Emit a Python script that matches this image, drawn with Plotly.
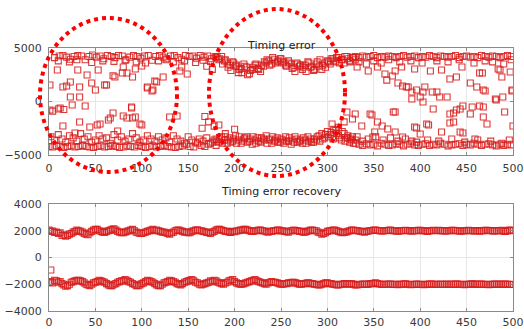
import plotly.graph_objects as go

# ---------------- Top chart: "Timing error" ----------------
# dense upper row, x 0-180
ua_x = [6, 11, 15, 19, 23, 27, 31, 35, 39, 43, 47, 51, 55, 59, 63, 67, 71, 75, 79, 83, 87, 91,
        95, 99, 103, 107, 111, 115, 119, 123, 127, 131, 135, 139, 143, 147, 151, 155, 159, 163,
        167, 171, 175, 179]
ua_y = [4100, 4250, 4300, 4150, 3950, 4200, 4300, 4250, 3900, 4200, 4350, 4150, 4250, 4000, 4300,
        4200, 4100, 4300, 4250, 3900, 4150, 4300, 4200, 4050, 4250, 4300, 3850, 4200, 4300, 4150,
        4000, 4250, 4300, 4100, 3950, 4300, 4200, 4250, 4050, 4300, 4150, 4250, 4000, 4200]
ua2_x = [10, 22, 30, 46, 58, 70, 82, 94, 104, 118, 126, 134, 146, 158, 166, 174]
ua2_y = [3800, 3700, 3900, 3650, 3800, 3750, 3850, 3700, 3600, 3800, 3900, 3700, 3800, 3650, 3850, 3750]

# dense lower rows, x 0-180
la_x = list(range(0, 181, 4))
la_y = [-4200, -4250, -4150, -4200, -4300, -4200, -4150, -4250, -4200, -4100,
        -4200, -4250, -4300, -4200, -4150, -4250, -4200, -4100, -4200, -4300,
        -4250, -4150, -4200, -4250, -4100, -4200, -4300, -4200, -4150, -4250,
        -4200, -4100, -4200, -4250, -4300, -4200, -4150, -4000, -4200, -4250,
        -3900, -4100, -4200, -4000, -3800, -4100]
la2_x = list(range(2, 179, 4))
la2_y = [-3300, -3600, -3100, -3500, -3800, -3200, -3400, -3700, -3000, -3500,
         -3300, -3800, -3600, -3200, -3500, -3400, -3900, -3100, -3600, -3300,
         -3700, -3500, -3000, -3400, -3800, -3600, -3200, -3500, -3700, -3300,
         -3600, -3400, -3800, -3200, -3500, -3700, -3900, -3300, -3600, -3800,
         -3500, -3700, -3400, -3900, -3600]

# middle region x 180-330, upper band
ub_x = list(range(180, 331, 3))
ub_y = [4100, 3900, 4200, 3800, 3600, 3400, 3700, 3300, 2700, 3100,
        3500, 3200, 2600, 3000, 3400, 3100, 2800, 3300, 3600, 3800,
        3500, 3900, 3700, 4000, 3600, 3400, 3800, 3500, 3200, 3600,
        3300, 3000, 3400, 3700, 3200, 2900, 3500, 3300, 3000, 3600,
        3800, 3500, 4000, 3700, 4100, 3900, 3600, 4200, 3800, 4100, 3900]
ub2_x = list(range(181, 330, 3))
ub2_y = [4200, 4000, 3500, 3900, 3200, 2900, 3600, 3400, 3000, 2700,
         3300, 2500, 2900, 3200, 3500, 3000, 3400, 3700, 3900, 3400,
         4100, 3600, 3800, 4000, 3700, 3300, 3600, 3100, 2800, 3500,
         3400, 3200, 2800, 3600, 3300, 3000, 3700, 3900, 3400, 3200,
         3700, 4000, 3800, 4100, 3600, 3900, 4200, 4000, 3700, 4100]
# middle region x 180-330, lower band
lb_x = list(range(180, 331, 3))
lb_y = [-3500, -3800, -3300, -3600, -3900, -3400, -3700, -3200, -3600, -3900,
        -3500, -3300, -3700, -4000, -3600, -3400, -3800, -3500, -3200, -3600,
        -3900, -3700, -3400, -3800, -3600, -3300, -3700, -4000, -3800, -3500,
        -3700, -3900, -3600, -3300, -3500, -3800, -3600, -3200, -3000, -3400,
        -2800, -3100, -3500, -2700, -3200, -3600, -3000, -3400, -3800, -3300, -3600]
lb2_x = list(range(181, 330, 3))
lb2_y = [-3700, -3400, -3900, -3300, -3600, -3800, -3500, -3900, -3300, -3700,
         -3400, -3800, -3500, -3300, -3900, -3700, -3400, -3600, -3900, -3500,
         -3300, -3600, -3800, -3500, -3900, -3700, -3400, -3600, -3300, -3800,
         -3600, -3400, -3900, -3700, -3800, -3500, -3300, -3700, -3500, -3100,
         -3300, -2900, -2600, -3000, -3400, -2800, -3700, -3200, -3500, -3900]

# right region x 330-500
uc_x = list(range(330, 500, 4))
uc_y = [4200, 4100, 4250, 4150, 4200, 4300, 4100, 4200, 4150, 4250,
        4200, 4100, 4200, 4300, 4150, 4200, 4250, 4100, 4200, 4150,
        4300, 4200, 4100, 4250, 4200, 4150, 4200, 4300, 4100, 4200,
        4250, 4150, 4200, 4100, 4300, 4200, 4150, 4250, 4200, 4100,
        4200, 4300, 4200]
uc2_x = [334, 342, 350, 358, 366, 378, 390, 402, 418, 430, 442, 458, 470, 478, 490, 498]
uc2_y = [3700, 3500, 3800, 3600, 3900, 3700, 3800, 3600, 3800, 3700, 3900, 3600, 3800, 3700, 3500, 3900]
lc_x = list(range(330, 500, 4))
lc_y = [-3900, -4000, -4100, -3950, -4050, -4000, -4150, -3900, -4000, -4100,
        -4050, -3950, -4000, -4150, -4000, -3900, -4050, -4100, -4000, -3950,
        -4100, -4000, -4050, -3900, -4000, -4150, -4050, -4000, -3950, -4100,
        -4000, -4050, -3900, -4000, -4100, -4000, -3950, -4050, -4150, -4000,
        -4100, -4000, -4050]
lc2_x = [322, 326, 332, 338, 344, 352, 360, 368, 376, 384, 396, 408, 420, 434, 448, 462, 476, 488, 496]
lc2_y = [-3400, -3600, -3300, -3700, -3500, -3300, -3600, -3400, -3700, -3500,
         -3800, -3600, -3700, -3500, -3800, -3600, -3700, -3900, -3600]

# scattered points between the bands
sc_x = [1, 1, 9, 31, 53, 41, 23, 15, 33, 50, 62, 71, 84, 90, 106, 112, 116, 123, 33, 25,
        39, 12, 89, 69, 84, 90, 64, 52, 33, 44, 100, 69, 79, 19, 46, 60, 23, 10, 66, 15,
        55, 74, 28, 80, 93, 100, 143, 149, 141, 114, 106, 111, 89, 80, 93, 98, 130, 138, 4, 16,
        168, 172, 178, 165, 183, 200, 190, 170, 176, 305, 312, 318,
        332, 344, 354, 362, 370, 373, 364, 376, 381, 387, 391, 396, 400, 391, 394, 380,
        321, 330, 327, 337, 346, 354, 359, 371, 365, 373, 351, 349, 381, 394, 400, 391,
        411, 423, 432, 439, 445, 454, 467, 461, 470, 484, 488, 499, 481, 464, 446, 432,
        454, 491, 407, 436, 472, 423, 443, 459, 500, 405, 413, 421, 403, 443, 414,
        385, 403, 418, 429, 439, 468, 482, 489, 499, 348, 373, 396, 409, 436, 432, 446,
        464, 468, 486, 497, 456, 468]
sc_y = [1540, -800, 2950, 2950, 2950, 2480, 1820, 1360, 1360, 1070, 1540, 2290, 2660, 2290,
        1260, 1070, 1820, 2290, 420, -330, -420, -610, -610, -1070, -1540, -1540, -1730, -2200,
        -1920, -2380, -2200, 2400, 2660, 1450, 1730, 1540, 420, -700, -1540, -2290, -2100, -2760,
        -2950, 3230, 3040, 3320, 3230, 2570, 2850, 1900, 1360, 980, -510, -1360, -1450, -2100,
        -1450, -1360, -900, -750,
        -1400, -1900, -2300, -2500, -2200, -2600, -3000, 3300, 3000, -2100, -2400, -1900,
        3220, 2850, 3220, 2570, 2380, 2850, 2000, 1730, 1450, 1360, 890, 1070, 420, 230, 3040, 3220,
        -980, -1170, -1640, -2290, -1170, -1920, -2290, -980, -2570, -2850, -2850, -3320, -3320,
        -2380, -3040, -3700,
        2850, 2950, 2100, 2290, 3220, 1730, 2660, 1360, 980, 3040, 2290, 980, 230, -420, -420,
        -1170, -1170, -980, -2100, -1920, -2100, -2850, -2850, -3510, -2290, 1360, 890, 420,
        -50, -700, -700,
        1360, 890, 890, 420, -800, -510, 140, 420, 1070, -1260, -980, -2480, -2200, -1070,
        -2010, -2950, 2660, 1070, 2950, 2760, -510, -1450]

# ---------------- Bottom chart: "Timing error recovery" ----------------
rec_x = list(range(0, 501, 4))
rec_up = [2050, 1980, 1900, 1850, 1700, 1650, 1800, 1950, 2000, 1900,
          1750, 1850, 2050, 2100, 1950, 1880, 2000, 2100, 2050, 1900,
          1850, 1950, 2050, 2000, 1850, 1800, 1900, 2000, 2100, 2050,
          1950, 1900, 1800, 1850, 2000, 2050, 1950, 1900, 1850, 2000,
          2080, 2000, 1920, 1850, 1900, 2050, 2100, 2000, 1950, 1880,
          1920, 2000, 2050, 2100, 2000, 1950, 2000, 2050, 1980, 1900,
          1950, 2000, 2050, 2000, 1920, 1980, 2050, 2000, 1950, 1900,
          2000, 2050, 2000, 1850, 1800, 1950, 2000, 2050, 1950, 1850,
          1900, 2000, 2050, 2020, 1950, 1900, 1980, 2020, 2050, 2000,
          1980, 2020, 2050, 2000, 1960, 2000, 2030, 2010, 1980, 2000,
          2040, 2000, 1950, 2000, 2020, 2040, 2000, 1980, 2010, 2040,
          2000, 1960, 1990, 2030, 2010, 2000, 1970, 2000, 2030, 2020,
          1990, 2000, 2030, 1950, 2050, 2000]
rec_lo = [-1850, -1900, -1750, -1800, -2050, -2100, -1850, -1750, -1700, -1800,
          -2000, -2100, -1900, -1800, -1750, -1850, -2050, -2100, -1950, -1800,
          -1750, -1700, -1850, -2000, -2100, -1950, -1800, -1750, -1850, -2050,
          -2100, -1900, -1800, -1750, -1850, -2000, -1950, -1800, -1700, -1750,
          -1900, -2050, -1950, -1850, -1800, -1750, -1900, -2000, -1850, -1700,
          -1800, -1950, -2000, -1900, -1800, -1700, -1750, -1850, -1950, -1900,
          -1800, -1850, -1950, -2000, -1950, -1900, -1850, -1950, -2000, -1950,
          -1900, -1950, -2000, -2050, -1950, -1900, -1950, -2000, -2050, -2000,
          -1950, -1980, -2000, -2050, -2020, -1980, -2000, -1950, -1900, -1980,
          -2020, -2000, -1980, -2000, -2030, -2000, -1970, -2000, -2020, -1990,
          -2000, -2030, -2010, -1980, -2000, -2020, -2000, -1990, -2010, -2000,
          -1980, -2000, -2030, -2000, -1970, -1990, -2010, -2000, -2020, -2000,
          -1990, -2010, -2000, -1980, -2000, -2020]
rec_x2 = list(range(2, 499, 4))
rec_up2 = [1950, 1880, 1800, 1650, 1600, 1750, 1900, 2050, 1950, 1800,
           1700, 1950, 2100, 2000, 1900, 1950, 2050, 2150, 1950, 1850,
           1900, 2000, 2100, 1900, 1800, 1850, 1950, 2050, 2000, 2000,
           1900, 1850, 1750, 1900, 2050, 2000, 1900, 1850, 1950, 2050,
           2000, 1950, 1880, 1800, 1950, 2100, 2050, 1950, 1900, 1950,
           1980, 2050, 2100, 2050, 1950, 2000, 2050, 2000, 1920, 1950,
           2000, 2050, 1980, 1950, 1900, 2020, 2000, 1950, 1900, 1950,
           2050, 2000, 1900, 1750, 1850, 2000, 2050, 2000, 1900, 1880,
           1950, 2050, 2000, 1980, 1920, 1950, 2000, 2050, 2020, 1980,
           2000, 2040, 2000, 1980, 1990, 2020, 2000, 1990, 2010, 2030,
           2010, 1980, 2000, 2030, 2000, 2010, 1990, 2000, 2040, 2000,
           1980, 2000, 2020, 2000, 1990, 2010, 2000, 2030, 2000, 1990,
           2010, 2000, 1970, 2010, 2030]
rec_lo2 = [-1800, -1700, -1850, -1950, -2150, -2000, -1800, -1700, -1750, -1900,
           -2050, -2000, -1850, -1700, -1800, -1950, -2100, -2000, -1850, -1750,
           -1650, -1800, -1950, -2100, -2050, -1900, -1700, -1800, -1950, -2100,
           -2000, -1850, -1700, -1800, -1950, -2050, -1850, -1750, -1650, -1850,
           -2000, -2000, -1900, -1750, -1700, -1850, -1950, -1900, -1750, -1650,
           -1900, -2000, -1950, -1850, -1750, -1650, -1800, -1900, -2000, -1850,
           -1850, -1900, -2000, -1950, -1900, -1850, -1900, -2000, -1950, -1900,
           -1950, -2000, -2050, -2000, -1900, -1950, -2000, -2050, -2000, -1950,
           -2000, -1950, -2050, -2000, -1980, -2020, -1950, -1920, -1950, -2000,
           -2000, -1980, -2020, -2000, -2000, -1980, -2000, -2030, -2000, -2010,
           -2020, -2000, -1990, -2010, -2000, -1980, -2020, -2000, -2000, -1990,
           -2000, -2020, -2000, -1990, -2010, -2000, -1980, -2000, -2030, -2010,
           -2000, -1990, -2010, -2000, -2020]
rec_out_x = [2]
rec_out_y = [-930]

x_ticks = [0, 50, 100, 150, 200, 250, 300, 350, 400, 450, 500]
top_y_ticks = [-5000, 0, 5000]
bot_y_ticks = [-4000, -2000, 0, 2000, 4000]

# ---------------- Figure ----------------
W, H = 524, 329
MCOL = "rgba(215,30,30,0.88)"
marker = dict(symbol="square-open", size=6, color=MCOL, line=dict(width=1.1, color=MCOL))

fig = go.Figure()
top_groups = [(ua_x, ua_y), (ua2_x, ua2_y), (la_x, la_y), (la2_x, la2_y), (ub_x, ub_y),
              (ub2_x, ub2_y), (lb_x, lb_y), (lb2_x, lb2_y), (uc_x, uc_y), (uc2_x, uc2_y),
              (lc_x, lc_y), (lc2_x, lc2_y), (sc_x, sc_y)]
for gx, gy in top_groups:
    fig.add_trace(go.Scatter(x=gx, y=gy, mode="markers", marker=marker,
                             xaxis="x", yaxis="y", showlegend=False))
for gx, gy in [(rec_x, rec_up), (rec_x, rec_lo), (rec_x2, rec_up2), (rec_x2, rec_lo2),
               (rec_out_x, rec_out_y)]:
    fig.add_trace(go.Scatter(x=gx, y=gy, mode="markers", marker=marker,
                             xaxis="x2", yaxis="y2", showlegend=False))

def px_x(p):
    return p / W

def px_y(p):
    return 1 - p / H

axis_common = dict(showline=True, linecolor="#8a8a8a", linewidth=1, mirror="allticks",
                   ticks="inside", ticklen=3, tickcolor="#8a8a8a", automargin=False,
                   showgrid=True, gridcolor="#e6e6e6", gridwidth=1, zeroline=False,
                   tickfont=dict(family="DejaVu Sans", size=11, color="#3a3a3a"))

fig.update_layout(
    width=W, height=H, margin=dict(l=0, r=0, t=0, b=0, autoexpand=False),
    paper_bgcolor="white", plot_bgcolor="white",
    xaxis=dict(domain=[px_x(49), px_x(513)], range=[0, 500], tickvals=x_ticks,
               anchor="y", ticklabelstandoff=3, **axis_common),
    yaxis=dict(domain=[px_y(155), px_y(48)], range=[-5000, 5000], tickvals=top_y_ticks,
               anchor="x", ticklabelstandoff=4, **axis_common),
    xaxis2=dict(domain=[px_x(49), px_x(513)], range=[0, 500], tickvals=x_ticks,
                anchor="y2", ticklabelstandoff=1, **axis_common),
    yaxis2=dict(domain=[px_y(311), px_y(204)], range=[-4000, 4000], tickvals=bot_y_ticks,
                anchor="x2", ticklabelstandoff=4, **axis_common),
    annotations=[
        dict(text="Timing error", x=px_x(281), y=px_y(37), xref="paper", yref="paper",
             showarrow=False, font=dict(family="DejaVu Sans", size=11, color="#222")),
        dict(text="Timing error recovery", x=px_x(281), y=px_y(191), xref="paper", yref="paper",
             showarrow=False, font=dict(family="DejaVu Sans", size=11, color="#222")),
    ],
    shapes=[
        dict(type="circle", xref="paper", yref="paper",
             x0=px_x(40), x1=px_x(177), y0=px_y(172), y1=px_y(18),
             line=dict(color="#ff0000", width=4, dash="dot")),
        dict(type="circle", xref="paper", yref="paper",
             x0=px_x(209), x1=px_x(345), y0=px_y(176), y1=px_y(9),
             line=dict(color="#ff0000", width=4, dash="dot")),
    ],
)

fig.write_html("out.html")
